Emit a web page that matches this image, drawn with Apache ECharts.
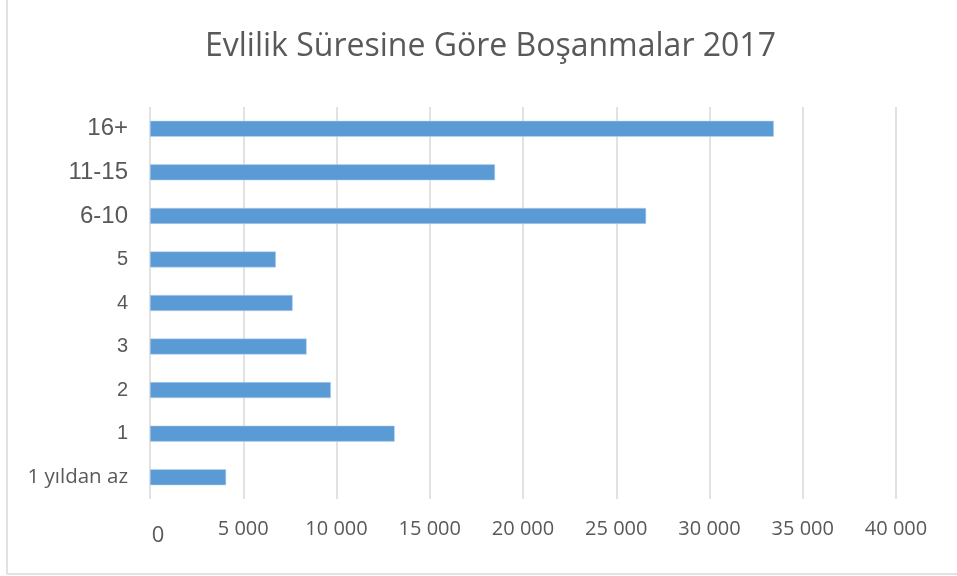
<!DOCTYPE html>
<html>
<head>
<meta charset="utf-8">
<script src="https://cdn.jsdelivr.net/npm/echarts@6/dist/echarts.min.js"></script>
<style>
  html, body { margin: 0; padding: 0; background: #fff; }
  #chart { width: 957px; height: 576px; }
</style>
</head>
<body>
<div id="chart"></div>
<script>
  // kategoriler (alttan üste)
  var categories = ['1 yıldan az', '1', '2', '3', '4', '5', '6-10', '11-15', '16+'];
  var values = [4080, 13120, 9700, 8400, 7650, 6750, 26600, 18500, 33450];
  var xTicks = [0, 5000, 10000, 15000, 20000, 25000, 30000, 35000, 40000];

  var dom = document.getElementById('chart');
  var myChart = echarts.init(dom);

  function fmt(v) {
    if (v === 0) return '{zero|0}';
    var s = String(v);
    return s.slice(0, s.length - 3) + ' ' + s.slice(-3);
  }

  var option = {
    backgroundColor: '#fff',
    animation: false,
    title: {
      text: 'Evlilik Süresine Göre Boşanmalar 2017',
      left: 200,
      top: 26,
      textStyle: {
        fontFamily: 'Open Sans',
        fontWeight: 'normal',
        fontSize: 32,
        color: '#595959'
      }
    },
    graphic: [
      { type: 'line', shape: { x1: 7, y1: 0, x2: 7, y2: 574 }, style: { stroke: '#d9d9d9', lineWidth: 1.5 } },
      { type: 'line', shape: { x1: 7, y1: 574, x2: 957, y2: 574 }, style: { stroke: '#d9d9d9', lineWidth: 1.5 } }
    ],
    grid: {
      left: 150,
      right: 61,
      top: 107,
      bottom: 77
    },
    xAxis: {
      type: 'value',
      min: xTicks[0],
      max: xTicks[xTicks.length - 1],
      interval: 5000,
      axisLine: { show: false },
      axisTick: { show: false },
      splitLine: { lineStyle: { color: '#d9d9d9', width: 1.5 } },
      axisLabel: {
        margin: 20,
        fontFamily: 'Open Sans',
        fontSize: 20,
        color: '#595959',
        formatter: fmt,
        rich: {
          zero: { fontFamily: 'Open Sans', fontSize: 22, color: '#595959', padding: [6, 0, 0, 16] }
        }
      }
    },
    yAxis: {
      type: 'category',
      data: categories,
      axisLine: { show: false },
      axisTick: { show: false },
      axisLabel: {
        margin: 22,
        color: '#595959',
        formatter: function (v) {
          if (v === '1 yıldan az') return '{c|' + v + '}';
          if (v.length > 1) return '{b|' + v + '}';
          return '{a|' + v + '}';
        },
        rich: {
          a: { fontFamily: 'Liberation Sans', fontSize: 20, color: '#595959' },
          b: { fontFamily: 'Liberation Sans', fontSize: 24, color: '#595959' },
          c: { fontFamily: 'Open Sans', fontSize: 20.5, color: '#595959' }
        }
      }
    },
    series: [
      {
        name: 'Boşanma',
        type: 'bar',
        data: values,
        barWidth: 16,
        itemStyle: {
          color: '#5b9bd5',
          borderColor: '#bdd7ee',
          borderWidth: 0.5
        }
      }
    ]
  };
  if (option && typeof option === 'object') {
    myChart.setOption(option, true);
  }
</script>
</body>
</html>
